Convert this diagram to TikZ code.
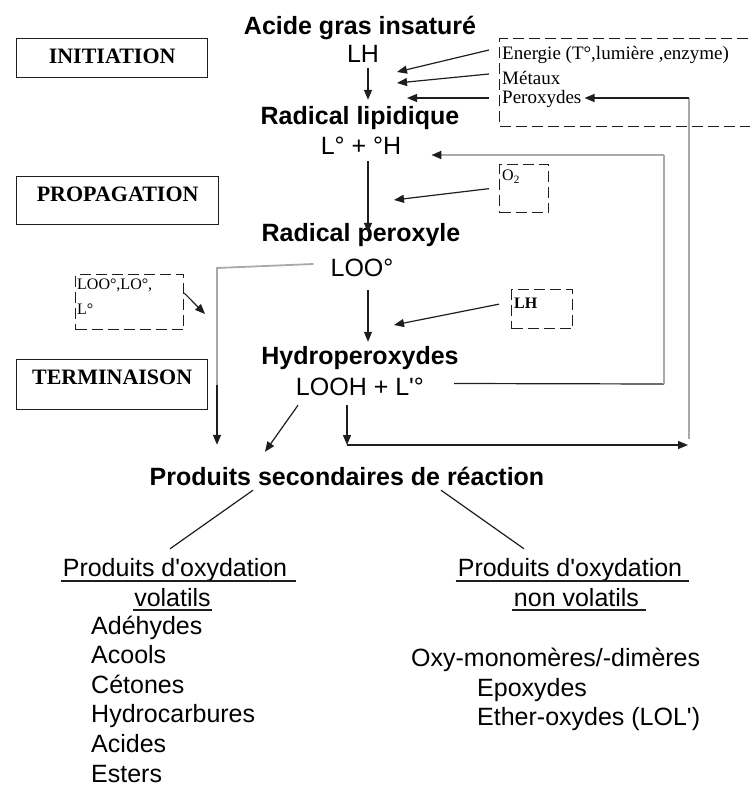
\documentclass[tikz,border=0pt]{standalone}
\usepackage{fontspec}
\setmainfont{Liberation Sans}
\newfontfamily\timesfont{Liberation Serif}
\usetikzlibrary{arrows.meta,calc,positioning}
\definecolor{ink}{HTML}{1E1E1E}
\definecolor{loopgray}{HTML}{A9A9A9}

\begin{document}
\begin{tikzpicture}[x=1pt,y=-1pt,
    txt/.style={inner sep=0pt,anchor=base,text height=18pt,text depth=5pt,font=\fontsize{25}{30}\selectfont},
    title/.style={txt,font=\fontsize{25}{30}\selectfont\bfseries},
    item/.style={txt,anchor=base west,text depth=0pt},
    stagebox/.style={draw=ink,line width=1.3pt,inner sep=0pt,anchor=north west,font=\timesfont\fontsize{22}{26}\selectfont\bfseries},
    dashbox/.style={draw=ink,line width=1.3pt,dash pattern=on 11pt off 5pt,inner sep=0pt,anchor=north west},
    boxtxt/.style={inner sep=0pt,anchor=west,font=\timesfont\fontsize{19}{22}\selectfont},
    smalltxt/.style={inner sep=0pt,anchor=north west,align=left,font=\timesfont\fontsize{16}{25}\selectfont},
    flow/.style={draw=ink,line width=1.2pt,-{Triangle[length=10pt,width=8pt]}},
    link/.style={draw=ink,line width=1.2pt},
    back/.style={draw=loopgray,line width=2.5pt}]
  \useasboundingbox (0,0) rectangle (749,786);

  \node[stagebox,minimum width=191pt,text height=25pt,text depth=14pt] (init) at (16,38) {INITIATION};
  \node[stagebox,minimum width=202pt,text height=25pt,text depth=23pt] (prop) at (16,176) {PROPAGATION};
  \node[stagebox,minimum width=191pt,text height=25pt,text depth=25pt] (term) at (16,359) {TERMINAISON};

  \node[title] (acide) at (360,35) {Acide gras insaturé};
  \node[txt] (lh) at (363,63) {LH};
  \node[title] (radlip) at (360,125) {Radical lipidique};
  \node[txt] (lrad) at (361,155) {L° + °H};
  \node[title] (radper) at (361,241) {Radical peroxyle};
  \node[txt] (loo) at (362,276) {LOO°};
  \node[title] (hydro) at (360,364) {Hydroperoxydes};
  \node[txt] (looh) at (360,395) {LOOH + L\textquotesingle°};
  \node[title] (sec) at (347,485) {Produits secondaires de réaction};

  \node[dashbox,minimum width=280pt,minimum height=88pt] (src) at (499,38) {};
  \node[boxtxt] (energie) at (502,55) {Energie (T°,lumière ,enzyme)};
  \node[boxtxt] (metaux) at (502,78) {Métaux};
  \node[boxtxt] (perox) at (502,99) {Peroxydes};
  \node[dashbox,minimum width=49pt,minimum height=48pt] (o2box) at (499,164) {};
  \node[smalltxt] (o2) at (502,170) {O\textsubscript{2}};
  \node[dashbox,minimum width=108pt,minimum height=55pt] (loobox) at (75,274) {};
  \node[smalltxt] (loorad) at (77,279) {LOO°,LO°,\\L°};
  \node[dashbox,minimum width=61pt,minimum height=39pt] (lhbox) at (511,289) {};
  \node[smalltxt,font=\timesfont\fontsize{16}{20}\selectfont\bfseries] (lhs) at (514,298) {LH};

  \coordinate (tip1) at (397,72);
  \coordinate (tip2) at (397,83);
  \coordinate (tip3) at (407,98);
  \coordinate (tipo2) at (394,200);
  \coordinate (tiplh) at (394,325);
  \coordinate (tiploo) at (205,314);
  \draw[flow] ([xshift=-13pt,yshift=5pt]energie.west) -- (tip1);
  \draw[flow] ([xshift=-13pt,yshift=4pt]metaux.west) -- (tip2);
  \draw[flow] ([xshift=-13pt,yshift=1pt]perox.west) -- (tip3);
  \draw[flow] ([xshift=-10pt]o2box.west) -- (tipo2);
  \draw[flow] ([xshift=-12pt,yshift=5pt]lhbox.west) -- (tiplh);
  \draw[flow] ([yshift=9pt]loobox.east) -- (tiploo);

  \draw[flow] ([xshift=5pt]lh.south) -- ([xshift=8pt,yshift=7pt]radlip.north);
  \draw[flow] ([xshift=7pt,yshift=-1pt]lrad.south) -- ([xshift=7pt,yshift=-10pt]radper.north);
  \draw[flow] ([xshift=6pt,yshift=-9pt]loo.south) -- ([xshift=8pt,yshift=4pt]hydro.north);

  \coordinate (cnrA) at (217,268);
  \coordinate (midA) at (217,385);
  \draw[back,line width=1.8pt] ([xshift=-17pt,yshift=5.5pt]loo.west) -- (cnrA) -- (midA);
  \draw[flow] (midA) -- ([xshift=-130pt,yshift=22pt]sec.north);
  \draw[flow] ([xshift=-62pt,yshift=-5pt]looh.south) -- ([xshift=-82pt,yshift=15pt]sec.north);

  \coordinate (cnrB) at (347,445);
  \coordinate (cnrC) at (688,445);
  \coordinate (cnrD) at (689,439);
  \coordinate (cnrE) at (689,98);
  \draw[flow] ([xshift=-13pt,yshift=-5pt]looh.south) -- (cnrB);
  \draw[flow] (cnrB) -- (cnrC);
  \draw[back] (cnrD) -- (cnrE);
  \draw[flow] (cnrE) -- ([xshift=3pt,yshift=1pt]perox.east);

  \coordinate (cnrF) at (664,384);
  \coordinate (cnrG) at (664,155);
  \draw[link] ([xshift=30pt,yshift=5pt]looh.east) -- (cnrF);
  \draw[back] (cnrF) -- (cnrG);
  \draw[back,line width=1.8pt,-{Triangle[length=10pt,width=8pt,color=ink]}] (cnrG) -- ([xshift=30pt,yshift=-6.5pt]lrad.east);

  \node[txt] (vol1) at (175,576) {Produits d\textquotesingle oxydation};
  \node[txt] (vol2) at (172.5,606) {volatils};
  \node[txt] (nvol1) at (570,576) {Produits d\textquotesingle oxydation};
  \node[txt] (nvol2) at (576.5,606) {non volatils};
  \draw[ink,line width=1.5pt] ([xshift=-2pt,yshift=-5pt]vol1.base west) -- ([xshift=9pt,yshift=-5pt]vol1.base east);
  \draw[ink,line width=2.5pt] ([xshift=-1pt,yshift=-4pt]vol2.base west) -- ([xshift=1pt,yshift=-4pt]vol2.base east);
  \draw[ink,line width=1.5pt] ([xshift=-2pt,yshift=-5pt]nvol1.base west) -- ([xshift=7pt,yshift=-5pt]nvol1.base east);
  \draw[ink,line width=2.5pt] ([xshift=-2pt,yshift=-4pt]nvol2.base west) -- ([xshift=7pt,yshift=-4pt]nvol2.base east);
  \draw[link] ([xshift=-94pt]sec.south) -- ([xshift=-5pt,yshift=9pt]vol1.north);
  \draw[link] ([xshift=94pt]sec.south) -- ([xshift=-46pt,yshift=9pt]nvol1.north);

  \foreach \name [count=\i] in {Adéhydes,Acools,Cétones,Hydrocarbures,Acides,Esters}
    \node[item] (vola\i) at (91,{604.4+29.6*\i}) {\name};
  \node[item] (nva1) at (411,666) {Oxy-monomères/-dimères};
  \node[item] (nva2) at (477,696) {Epoxydes};
  \node[item] (nva3) at (477,725) {Ether-oxydes (LOL\textquotesingle)};
\end{tikzpicture}
\end{document}
